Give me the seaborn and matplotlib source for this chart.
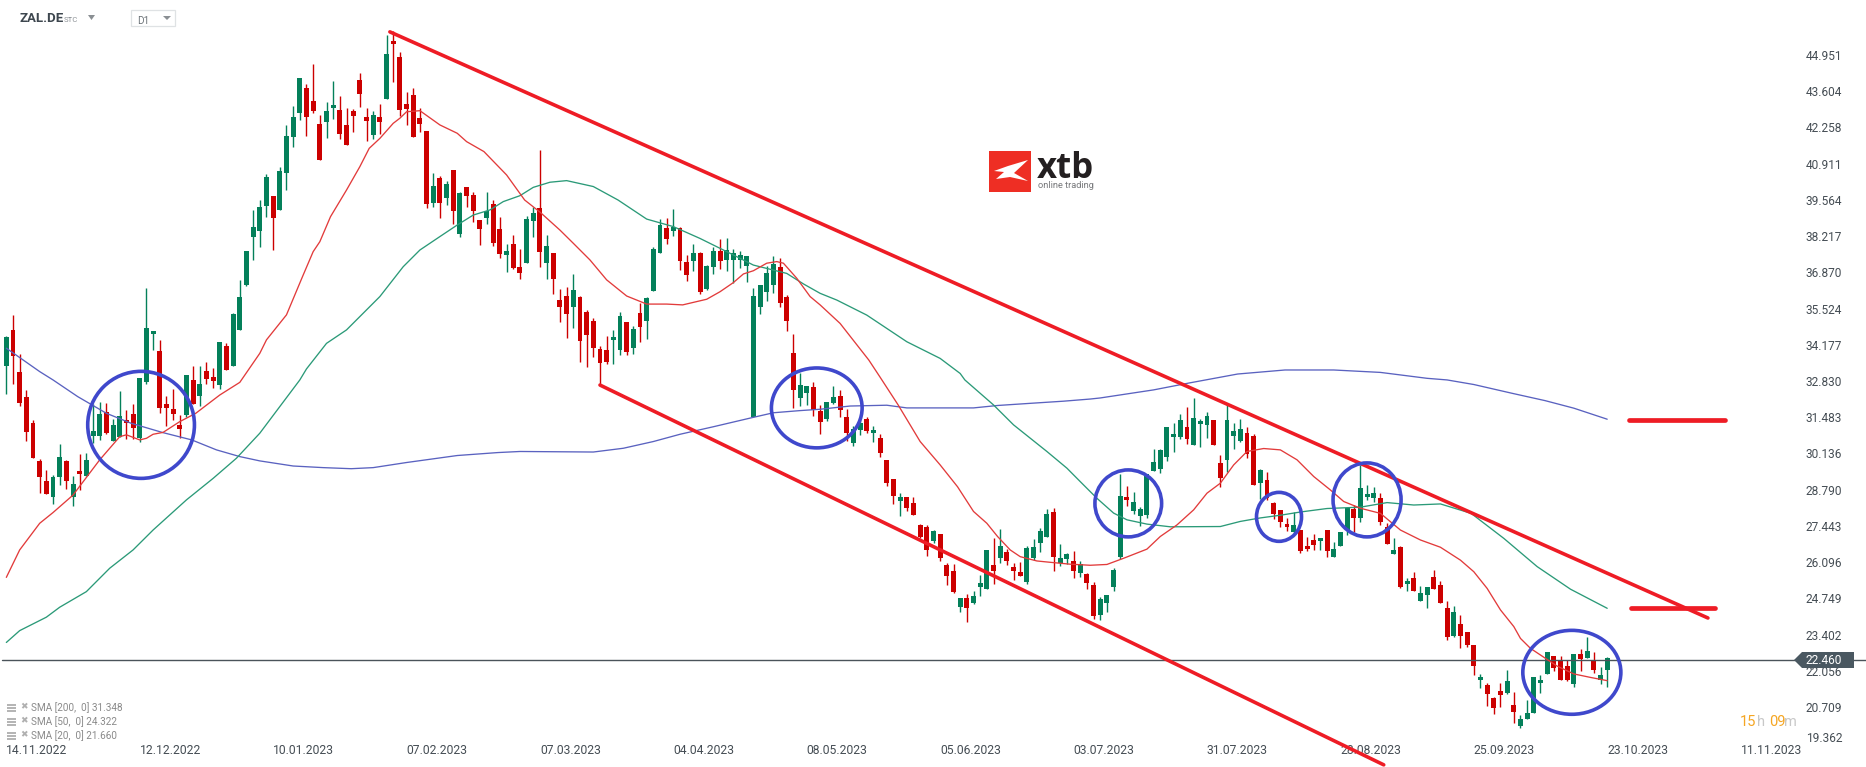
import numpy as np
import seaborn as sns
import matplotlib.pyplot as plt
from matplotlib.patches import Ellipse, Polygon, Rectangle
from matplotlib.transforms import ScaledTranslation

# daily candles, 14.11.2022 -> 23.10.2023
highs = [
    34.50,35.29,33.84,32.50,31.38,29.93,29.52,29.34,30.49,29.90,
    29.30,30.12,30.16,31.98,32.05,32.01,31.42,32.46,31.75,31.98,
    32.94,36.29,34.69,34.36,32.27,32.53,31.57,33.05,33.39,33.39,
    33.54,33.32,34.28,34.24,35.36,36.59,37.66,39.19,39.56,40.53,
    39.71,40.79,42.35,43.05,44.10,43.87,44.62,42.72,43.20,43.98,
    43.43,42.98,42.94,44.28,42.98,42.87,43.13,45.69,45.84,45.06,
    43.57,43.72,42.98,42.13,40.56,40.45,40.27,40.68,39.86,40.04,
    39.86,38.82,39.86,39.56,38.93,37.93,38.26,37.74,38.97,39.30,
    41.42,38.26,37.59,36.25,36.33,36.81,35.99,35.47,35.17,34.13,
    34.50,34.73,35.40,35.03,34.88,35.73,35.95,37.81,38.85,38.89,
    39.23,38.56,37.52,37.92,37.63,37.14,37.81,38.11,38.15,37.74,
    37.66,37.48,36.29,36.40,37.11,37.48,37.40,36.03,34.58,33.13,
    32.65,32.80,31.94,32.05,32.65,32.50,31.79,31.16,31.50,31.50,
    31.16,30.86,29.90,29.19,28.67,28.52,28.52,27.52,27.48,27.29,
    27.15,26.07,26.03,24.77,24.92,25.03,25.62,26.55,27.00,27.33,
    26.59,26.07,26.10,26.70,26.96,27.37,28.07,28.11,26.77,26.44,
    26.51,26.14,25.70,25.36,24.80,24.88,25.88,29.38,28.93,28.71,
    28.15,29.38,30.31,30.31,31.13,31.27,31.61,31.87,32.20,31.42,
    31.68,31.38,30.08,31.94,31.27,31.42,31.13,30.86,29.56,29.45,
    28.34,28.04,27.74,27.96,27.30,27.03,27.15,27.00,27.30,26.85,
    27.22,28.16,28.22,29.71,28.97,28.89,28.67,27.54,26.99,26.70,
    25.51,25.73,25.21,25.17,25.80,25.39,24.65,24.47,24.13,23.50,
    23.01,21.94,21.60,21.08,21.60,22.09,21.27,20.41,20.97,21.83,
    21.90,22.75,22.61,22.61,22.46,22.68,22.87,23.31,22.75,22.20,22.57,
]
lows = [
    32.35,32.72,31.90,30.60,29.97,28.67,28.63,28.26,28.97,28.82,
    28.19,28.78,29.30,30.52,30.64,30.86,30.60,30.75,30.68,30.68,
    30.56,32.72,33.98,31.64,31.16,31.38,30.71,31.49,31.98,31.90,
    32.72,32.57,32.53,33.24,33.39,34.73,36.36,37.33,37.83,38.94,
    37.70,39.19,39.93,41.53,42.53,41.94,42.79,41.05,41.87,42.57,
    41.83,41.60,42.09,43.02,41.75,41.83,42.01,43.31,43.95,42.68,
    42.35,41.90,42.09,39.26,39.30,38.89,39.37,38.67,38.19,39.30,
    38.74,37.89,38.67,37.85,37.40,36.88,37.00,36.62,37.22,38.19,
    37.07,36.62,36.07,35.03,34.43,34.80,33.54,33.35,33.72,32.72,
    33.46,33.46,33.80,33.80,33.83,34.28,34.39,36.18,37.59,37.92,
    38.22,36.96,36.55,36.92,36.07,36.21,36.81,37.00,36.92,36.47,
    37.03,36.51,31.49,35.32,35.81,36.10,35.58,34.69,31.83,31.90,
    31.94,31.53,30.86,31.35,31.98,31.50,30.60,30.42,30.83,30.90,
    30.57,30.01,28.93,28.26,27.81,28.00,27.85,27.00,26.33,26.81,
    26.14,25.25,24.95,24.25,23.87,24.54,24.84,25.10,25.29,26.07,
    25.99,25.44,25.58,25.29,26.18,26.48,27.03,25.77,25.96,26.03,
    25.51,25.55,25.10,23.99,23.95,24.25,25.03,26.22,28.19,27.89,
    27.44,27.74,29.49,29.41,29.86,30.20,30.68,30.49,30.46,30.38,
    30.72,30.46,28.89,29.45,30.31,30.57,29.97,28.97,28.45,28.41,
    27.70,27.41,27.26,27.15,26.44,26.51,26.55,26.55,26.29,26.29,
    26.70,27.11,27.23,27.60,28.41,28.34,27.48,26.77,26.40,25.13,
    25.02,25.02,24.65,24.39,25.10,24.58,23.20,23.31,22.90,22.94,
    21.90,21.42,20.75,20.45,20.71,21.19,20.12,19.93,20.26,20.49,
    21.23,21.94,22.05,21.71,21.68,21.45,22.05,22.53,21.97,21.56,21.45,
]
opens = [
    33.39,34.73,33.17,32.24,31.27,29.86,29.11,28.52,29.26,29.86,
    28.52,29.49,29.30,30.79,30.79,31.68,30.60,30.75,31.38,31.61,
    30.71,32.79,34.58,33.95,31.98,31.79,31.20,31.57,32.87,32.27,
    33.20,32.98,32.68,34.13,33.39,34.73,36.40,38.18,38.41,39.34,
    39.71,39.19,40.56,41.90,42.79,43.72,43.24,42.39,42.46,42.98,
    42.91,42.35,42.87,44.02,42.65,41.98,42.65,43.31,45.47,44.88,
    43.13,43.46,42.61,42.13,39.45,40.38,39.64,40.68,38.30,40.04,
    39.75,38.82,38.89,39.41,38.48,37.52,37.93,37.07,37.22,38.78,
    39.26,37.22,37.59,35.84,35.99,35.58,35.95,35.40,35.06,34.02,
    33.98,34.36,33.98,35.03,34.06,35.36,35.06,36.18,37.59,38.52,
    38.41,38.52,37.26,37.29,37.59,36.25,37.07,37.66,37.33,37.33,
    37.33,37.11,31.49,35.58,36.14,36.40,37.07,35.95,33.87,32.20,
    32.39,32.61,31.72,31.42,32.01,32.28,31.50,30.53,31.01,31.42,
    30.90,30.71,29.90,29.19,28.37,28.52,28.30,27.48,27.41,26.89,
    27.15,25.99,25.77,24.43,24.77,24.58,25.18,25.10,25.99,26.25,
    26.48,25.92,25.73,25.36,26.25,26.81,27.03,27.96,26.07,26.22,
    26.14,25.70,25.66,25.25,24.14,24.58,25.18,26.29,28.52,28.00,
    27.82,27.85,29.49,29.56,30.01,30.75,30.75,31.13,30.46,31.24,
    31.20,31.38,29.79,29.90,30.79,30.60,30.90,30.79,29.04,29.15,
    28.30,28.04,27.52,27.22,27.30,26.70,26.92,26.89,27.30,26.29,
    26.70,27.29,28.07,27.74,28.52,28.48,28.48,27.41,26.40,26.66,
    25.28,25.51,24.65,24.87,25.54,25.25,24.39,23.35,23.80,23.50,
    23.01,21.71,21.53,21.05,21.31,21.23,20.78,20.00,20.26,20.49,
    21.60,21.94,22.61,22.42,22.23,21.56,22.68,22.53,22.46,21.71,22.09,
]
closes = [
    34.47,33.76,32.01,30.94,29.97,29.26,28.63,29.26,30.01,29.11,
    29.00,29.38,29.90,30.97,31.61,30.90,31.20,31.53,31.27,31.08,
    32.94,34.80,34.69,31.83,31.83,31.61,31.05,33.05,31.98,32.72,
    32.91,32.83,34.28,33.24,35.32,35.95,37.66,38.56,39.30,40.41,
    38.89,40.64,41.94,42.65,44.10,42.65,42.87,41.05,42.87,43.09,
    42.01,41.60,42.68,43.50,42.50,42.72,42.46,44.99,45.36,42.91,
    42.94,41.90,42.39,39.41,40.08,39.45,40.16,39.15,39.82,39.71,
    39.15,38.48,39.15,37.96,37.55,37.66,37.03,36.85,38.85,39.08,
    37.63,37.85,36.62,35.58,35.32,36.21,34.32,34.54,34.06,33.50,
    33.54,34.47,35.25,33.91,34.76,34.84,35.92,37.74,38.63,38.11,
    38.56,37.29,36.77,37.59,36.14,37.11,37.66,37.29,37.70,37.59,
    37.52,37.48,35.99,36.40,36.85,37.18,35.73,35.06,32.50,32.68,
    32.65,31.76,31.31,32.05,32.24,31.76,30.90,31.05,31.27,30.97,
    31.01,30.16,29.04,28.56,28.52,28.11,27.85,27.03,26.55,27.26,
    26.25,25.58,24.99,24.77,24.39,24.84,25.32,26.55,25.77,26.70,
    26.14,25.77,25.58,26.63,26.66,27.26,27.89,26.29,26.25,26.40,
    25.77,26.03,25.33,24.10,24.73,24.88,25.81,28.56,28.41,28.34,
    28.08,29.38,29.82,30.27,31.13,30.86,31.38,30.68,31.46,31.35,
    31.53,30.46,29.23,31.38,30.98,31.05,30.12,28.97,29.53,28.49,
    27.89,27.59,27.41,27.48,26.51,26.59,26.74,27.00,26.51,26.59,
    27.22,28.10,27.73,28.86,28.63,28.67,27.59,26.77,26.55,25.17,
    25.39,25.02,24.95,25.17,25.10,24.58,23.31,24.24,23.35,23.01,
    22.23,21.83,21.19,20.67,21.16,21.68,20.52,20.26,20.49,21.83,
    21.71,22.75,22.16,21.71,21.71,22.68,22.49,22.79,22.09,21.90,22.53,
]

# moving averages, sampled by eye (candle number, price)
sma20_idx = [0,2,5,7,10,14,17,18,20,21,22,23.5,26,28.4,32,35,38,39,42,44.4,46,47,48.6,51,53,54.4,56,58,59,60,62,65,
             67.6,69,71.6,75,77.7,80,83,85,87.5,90,93,96,99,101.4,105,107,109,110.5,112,114,115.5,116.5,118.5,120.5,
             122,125,129.3,131,133.7,137,140,142.6,145,147,148.6,150.5,152,154.5,156.5,159.5,162.5,165,167.5,171,173,
             175.5,178,180,182,184,186,188.5,191,193.5,196,198.5,200.5,203,206,209,212,215,218,220,222,224,226,227,
             228.5,230.5,232.5,235,237.5,240]
sma20_val = [25.53,26.55,27.54,27.94,28.59,29.90,30.76,30.83,30.64,30.70,30.85,30.92,31.32,31.63,32.31,32.78,33.86,34.36,
             35.29,36.71,37.64,38.01,38.94,39.93,40.80,41.48,41.85,42.41,42.60,42.84,42.88,42.35,42.04,41.73,41.36,40.49,
             39.56,39.11,38.44,37.95,37.33,36.59,35.99,35.69,35.69,35.66,35.87,36.15,36.49,36.81,36.93,37.21,37.27,37.21,
             36.65,35.97,35.66,34.97,33.61,32.97,31.94,30.58,29.71,28.90,27.98,27.54,27.05,26.55,26.30,26.14,26.09,26.02,
             25.98,26.01,26.24,26.58,27.05,27.48,28.04,28.66,29.03,29.71,30.21,30.32,30.27,29.90,29.28,28.78,28.35,28.10,
             27.91,27.29,26.92,26.65,26.17,25.74,25.12,24.32,23.70,23.26,22.89,22.56,22.23,21.94,21.81,21.69]

sma50_idx = [0,2,6,8,12,15.5,19,22,27,31,34.5,38,41,44,45,48,51,53.5,56,59.5,62,65,67.6,70,72.5,74.5,77,79,81.5,84,88,
             91.7,96,100,104,108,112,117,119.5,122,124.5,129,135,140,143,143.7,148,151,156,159,161,163.5,166,168,171,
             174.5,182,185,188,191,194,198,203,207,211,215,219.6,224.5,229.5,234.5,240]
sma50_val = [23.11,23.55,24.05,24.42,25.00,25.87,26.55,27.29,28.41,29.21,29.96,30.89,31.88,32.87,33.28,34.23,34.73,35.35,
             35.97,37.08,37.70,38.20,38.63,39.00,39.19,39.50,39.72,40.03,40.22,40.28,40.06,39.56,38.85,38.57,38.13,37.64,
             37.14,36.83,36.44,36.09,35.84,35.28,34.29,33.67,33.11,32.87,31.94,31.20,30.21,29.59,29.09,28.47,27.92,27.67,
             27.51,27.41,27.42,27.61,27.74,27.84,27.96,28.09,28.14,28.31,28.22,28.26,27.91,26.98,25.93,25.09,24.38]

sma200_idx = [0,5,7,10.7,15,18.7,23.5,27.8,31.5,35,38,43,47.5,51.7,55,60,67.6,73.7,77,88,92.5,97,101,106,112,115,119,122,
              126.5,132,135,145,148.6,153.5,158.5,162.5,164,172,177.4,184.6,191.7,199,206,213,216,220,225.8,230.7,235,240]
sma200_val = [34.05,33.18,32.87,32.25,31.63,31.26,30.91,30.64,30.27,30.02,29.86,29.67,29.61,29.57,29.61,29.80,30.06,30.17,
              30.21,30.19,30.33,30.58,30.85,31.13,31.48,31.65,31.73,31.78,31.90,31.93,31.83,31.83,31.92,32.00,32.08,32.16,
              32.20,32.50,32.76,33.09,33.24,33.24,33.15,32.93,32.87,32.70,32.37,32.10,31.82,31.41]

price_ticks = [44.951,43.604,42.258,40.911,39.564,38.217,36.870,35.524,34.177,32.830,31.483,30.136,28.790,27.443,26.096,
               24.749,23.402,22.056,20.709,19.362]
date_ticks = [0,20,40,60,80,100,120,140,160,180,200,220,240,260]
date_labels = ["14.11.2022","12.12.2022","10.01.2023","07.02.2023","07.03.2023","04.04.2023","08.05.2023","05.06.2023",
               "03.07.2023","31.07.2023","28.08.2023","25.09.2023","23.10.2023","11.11.2023"]
last_price = 22.46
legend_labels = ["SMA [200,  0] 31.348","SMA [50,  0] 24.322","SMA [20,  0] 21.660"]

W, H = 1866, 767
GREEN = "#04805a"
RED = "#cc0000"
LINE_RED = "#ee1c25"
CIRCLE = "#3f48cc"
TXT = "#454d54"

sns.set_theme(style="white")
plt.rcParams["font.family"] = ["Roboto", "DejaVu Sans"]

fig = plt.figure(figsize=(W/100, H/100), dpi=100)
ax = fig.add_axes([0, 0, 1, 1])
ax.set_xlim(-0.95, 278.8)
ax.set_ylim(18.48, 46.995)
for s in ax.spines.values():
    s.set_visible(False)

def px(x, y):
    return (x/W, 1 - y/H)

# candles
idx = np.arange(len(closes))
o, c = np.array(opens), np.array(closes)
up = c >= o
cols = np.where(up, GREEN, RED)
ax.vlines(idx, lows, highs, colors=cols, lw=1.0, zorder=2)
ax.bar(idx, np.abs(c - o), bottom=np.minimum(o, c), width=0.74, color=cols, linewidth=0, zorder=3)

# last price line, under the moving averages
ax.axhline(last_price, xmin=0.001, color="#4a535a", lw=1.0, zorder=4)

# moving averages
sns.lineplot(x=sma200_idx, y=sma200_val, ax=ax, color="#5a62c0", lw=0.95, estimator=None, sort=False, zorder=5)
sns.lineplot(x=sma50_idx, y=sma50_val, ax=ax, color="#2b9a78", lw=0.95, estimator=None, sort=False, zorder=5)
sns.lineplot(x=sma20_idx, y=sma20_val, ax=ax, color="#e23b3b", lw=0.95, estimator=None, sort=False, zorder=5)

# drawn channel and levels
ax.plot([57.5, 255.1], [45.81, 24.02], color=LINE_RED, lw=2.6, zorder=6, solid_capstyle="round")
ax.plot([89, 206.5], [32.68, 18.56], color=LINE_RED, lw=2.6, zorder=6, solid_capstyle="round")
ax.plot([243.2, 257.7], [31.38, 31.38], color=LINE_RED, lw=3.4, zorder=6, solid_capstyle="round")
ax.plot([243.6, 256.1], [24.39, 24.39], color=LINE_RED, lw=3.4, zorder=6, solid_capstyle="round")

# hand drawn circles
for cx, cy, w, h in [(20.2, 31.2, 16.0, 3.98), (121.5, 31.83, 13.6, 2.97), (168.2, 28.28, 10.0, 2.49),
                     (190.8, 27.78, 6.75, 1.82), (204, 28.41, 10.2, 2.75), (234.7, 22.0, 14.7, 3.12)]:
    ax.add_patch(Ellipse((cx, cy), w, h, fill=False, ec=CIRCLE, lw=2.6, zorder=7))

# axes labels sit inside the plot
ax.yaxis.tick_right()
ax.set_yticks(price_ticks)
ax.set_yticklabels([f"{v:.3f}" for v in price_ticks])
ax.set_xticks(date_ticks)
ax.set_xticklabels(date_labels, ha="left")
ax.tick_params(axis="y", length=0, pad=-43.2, labelsize=8.6, labelcolor=TXT)
ax.tick_params(axis="x", length=0, pad=-16.5, labelsize=8.7, labelcolor=TXT)
for lbl in ax.get_yticklabels():
    lbl.set_ha("left")
ax.get_yticklabels()[-1].set_transform(
    ax.get_yticklabels()[-1].get_transform() + ScaledTranslation(0, 6/100, fig.dpi_scale_trans))
ax.set_xlabel("")
ax.set_ylabel("")

# price tag
tag = [px(1794, 660), px(1802, 652), px(1854, 652), px(1854, 668), px(1802, 668)]
fig.add_artist(Polygon(tag, closed=True, fc="#4a5861", ec="none", transform=fig.transFigure, zorder=8))
fig.text(*px(1806, 661), f"{last_price:.3f}", color="white", fontsize=8.6, va="center", ha="left", zorder=9)

# header
fig.text(*px(20, 19), "ZAL.DE", color="#3e474f", fontsize=9.5, fontweight="bold", va="center", family="Roboto")
fig.text(*px(64, 20), "STC", color="#8c9196", fontsize=5.6, va="center")
fig.add_artist(Polygon([px(88, 15), px(95, 15), px(91.5, 20)], fc="#8a8f93", ec="none", transform=fig.transFigure))
fig.add_artist(Rectangle(px(131, 26), 44/W, 16/H, fc="white", ec="#dfe2e4", lw=0.9, transform=fig.transFigure))
fig.text(*px(137, 20.5), "D1", color="#6d7479", fontsize=7.2, va="center")
fig.add_artist(Polygon([px(163, 16), px(171, 16), px(167, 20)], fc="#8a8f93", ec="none", transform=fig.transFigure))

# logo
fig.add_artist(Rectangle(px(989, 192), 42/W, 41/H, fc="#ee2e24", ec="none", transform=fig.transFigure))
for shape in ([(994, 171), (1008, 166), (1028, 160), (1014, 173), (1028, 181), (1010, 177), (996, 179), (1004, 172)],):
    fig.add_artist(Polygon([px(*p) for p in shape], fc="white", ec="none", transform=fig.transFigure))
fig.text(*px(1037, 178), "xtb", color="#231f20", fontsize=25, fontweight="bold", family="Open Sans", va="baseline")
fig.text(*px(1038, 186), "online trading", color="#77787b", fontsize=6.7, va="center")

# indicator legend, bottom left
for y, label in zip([708, 722, 736], legend_labels):
    for dy in (-3.5, -0.5, 2.5):
        fig.add_artist(Rectangle(px(6.5, y + dy + 1), 9/W, 2/H, fc="#b5b5b5", ec="none", transform=fig.transFigure))
    fig.text(*px(23.5, y - 1), "\u2716", color="#b0b0b0", fontsize=6.5, va="center", ha="center", family="DejaVu Sans")
    fig.text(*px(31, y), label, color="#8a8a8a", fontsize=7.2, va="center")

# countdown
for x, s, col in [(1740, "15", "#f5a623"), (1757, "h", "#c8c8c8"), (1769, "09", "#f5a623"), (1784, "m", "#c8c8c8")]:
    fig.text(*px(x, 722), s, color=col, fontsize=10.5, va="center")

fig.savefig("out.png", dpi=100)
